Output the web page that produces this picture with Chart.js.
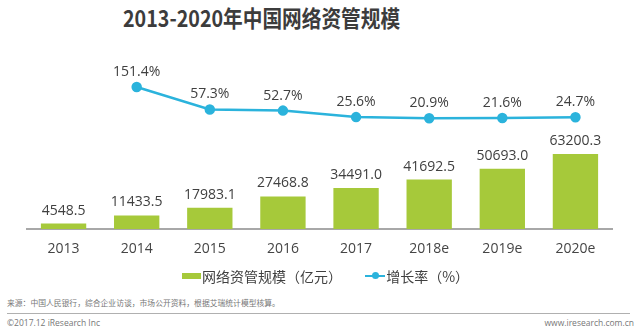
<!DOCTYPE html>
<html>
<head>
<meta charset="utf-8">
<script src="https://cdn.jsdelivr.net/npm/chart.js@4.4.1/dist/chart.umd.min.js"></script>
<style>
  html, body { margin: 0; padding: 0; background: #fff; }
  body { width: 639px; height: 330px; position: relative; overflow: hidden;
         font-family: "Noto Sans CJK SC", "Noto Sans", sans-serif; color: #404040; }
  .title { position: absolute; left: 123px; top: 2px; font-size: 23px; font-weight: bold;
           color: #3c3c3c; white-space: nowrap; line-height: 30px;
           transform: scaleX(0.855); transform-origin: left top; }
  .chart-box { position: absolute; left: 0; top: 0; width: 639px; height: 276px; }
  .legend { position: absolute; top: 264px; left: 182px; font-size: 14px; line-height: 20px;
            white-space: nowrap; color: #404040; }
  .legend span { display: inline-block; vertical-align: middle; }
  .swatch-bar { width: 19px; height: 6px; background: #a6c93a; margin-right: 1px; }
  .swatch-line { position: relative; width: 20px; height: 2px; background: #2bb3dc; margin-left: 20px; margin-right: 1px; }
  .swatch-line::after { content: ""; position: absolute; left: 7px; top: -3px; width: 7px; height: 7px;
                        border-radius: 50%; background: #2bb3dc; }
  .source { position: absolute; left: 7px; top: 297px; font-size: 7.8px; color: #777; white-space: nowrap; }
  .rule { position: absolute; left: 7px; top: 313px; width: 623px; height: 1px; background: #b0b0b0; }
  .copy { position: absolute; left: 7px; top: 317px; font-size: 8.5px; color: #777; font-family: "Open Sans", sans-serif; }
  .site { position: absolute; right: 5px; top: 317px; font-size: 8.5px; color: #777; font-family: "Open Sans", sans-serif; }
</style>
</head>
<body>
<div class="title">2013-2020年中国网络资管规模</div>
<div class="chart-box"><canvas id="chart"></canvas></div>
<div class="legend">
  <span class="swatch-bar"></span><span>网络资管规模（亿元）</span>
  <span class="swatch-line"></span><span>增长率（%）</span>
</div>
<div class="source">来源：中国人民银行，综合企业访谈，市场公开资料，根据艾瑞统计模型核算。</div>
<div class="rule"></div>
<div class="copy">©2017.12 iResearch Inc</div>
<div class="site">www.iresearch.com.cn</div>

<script>
// years on the x axis
const years = ['2013', '2014', '2015', '2016', '2017', '2018e', '2019e', '2020e'];
// online asset management scale, 100 million yuan
const scale = [4548.5, 11433.5, 17983.1, 27468.8, 34491.0, 41692.5, 50693.0, 63200.3];
// year-on-year growth, %
const growth = [null, 151.4, 57.3, 52.7, 25.6, 20.9, 21.6, 24.7];

const GREEN = '#a6c93a';
const BLUE = '#2bb3dc';
const labelFont = '14px "Open Sans", "Noto Sans", sans-serif';

// writes the value above every bar and every line point
const valueLabels = {
    id: 'valueLabels',
    afterDatasetsDraw(chart) {
        const ctx = chart.ctx;
        ctx.save();
        ctx.font = labelFont;
        ctx.fillStyle = '#404040';
        ctx.textAlign = 'center';
        ctx.textBaseline = 'middle';
        chart.data.datasets.forEach((ds, i) => {
            const meta = chart.getDatasetMeta(i);
            meta.data.forEach((el, j) => {
                const v = ds.data[j];
                if (v == null) return;
                if (ds.type === 'bar') {
                    ctx.fillText(v.toFixed(1), el.x, el.y - 13);
                } else {
                    ctx.fillText(v.toFixed(1) + '%', el.x, el.y - 15);
                }
            });
        });
        ctx.restore();
    }
};

new Chart(document.getElementById('chart'), {
    data: {
        labels: years,
        datasets: [
            {
                type: 'line',
                label: '增长率（%）',
                data: growth,
                yAxisID: 'y1',
                borderColor: BLUE,
                backgroundColor: BLUE,
                borderWidth: 2.5,
                pointRadius: 4,
                pointHoverRadius: 4,
                tension: 0,
                order: 0
            },
            {
                type: 'bar',
                label: '网络资管规模（亿元）',
                data: scale,
                yAxisID: 'y',
                backgroundColor: GREEN,
                categoryPercentage: 1,
                barPercentage: 0.62,
                order: 1
            }
        ]
    },
    options: {
        responsive: true,
        maintainAspectRatio: false,
        animation: false,
        layout: { padding: { left: 27, right: 27, top: 70, bottom: 7 } },
        plugins: {
            legend: { display: false },
            tooltip: { enabled: false }
        },
        scales: {
            x: {
                // fixed axis height so the plot bottom lands where it should
                afterFit(axis) { axis.height = 40; },
                grid: { display: false, drawTicks: false },
                border: { display: true, color: '#a8a8a8', width: 2 },
                ticks: {
                    color: '#454545',
                    padding: 12,
                    font: { family: '"Open Sans", "Noto Sans", sans-serif', size: 14 }
                }
            },
            y: { display: false, min: 0, max: 134000 },
            y1: { display: false, min: -441, max: 222 }
        }
    },
    plugins: [valueLabels]
});
</script>
</body>
</html>
